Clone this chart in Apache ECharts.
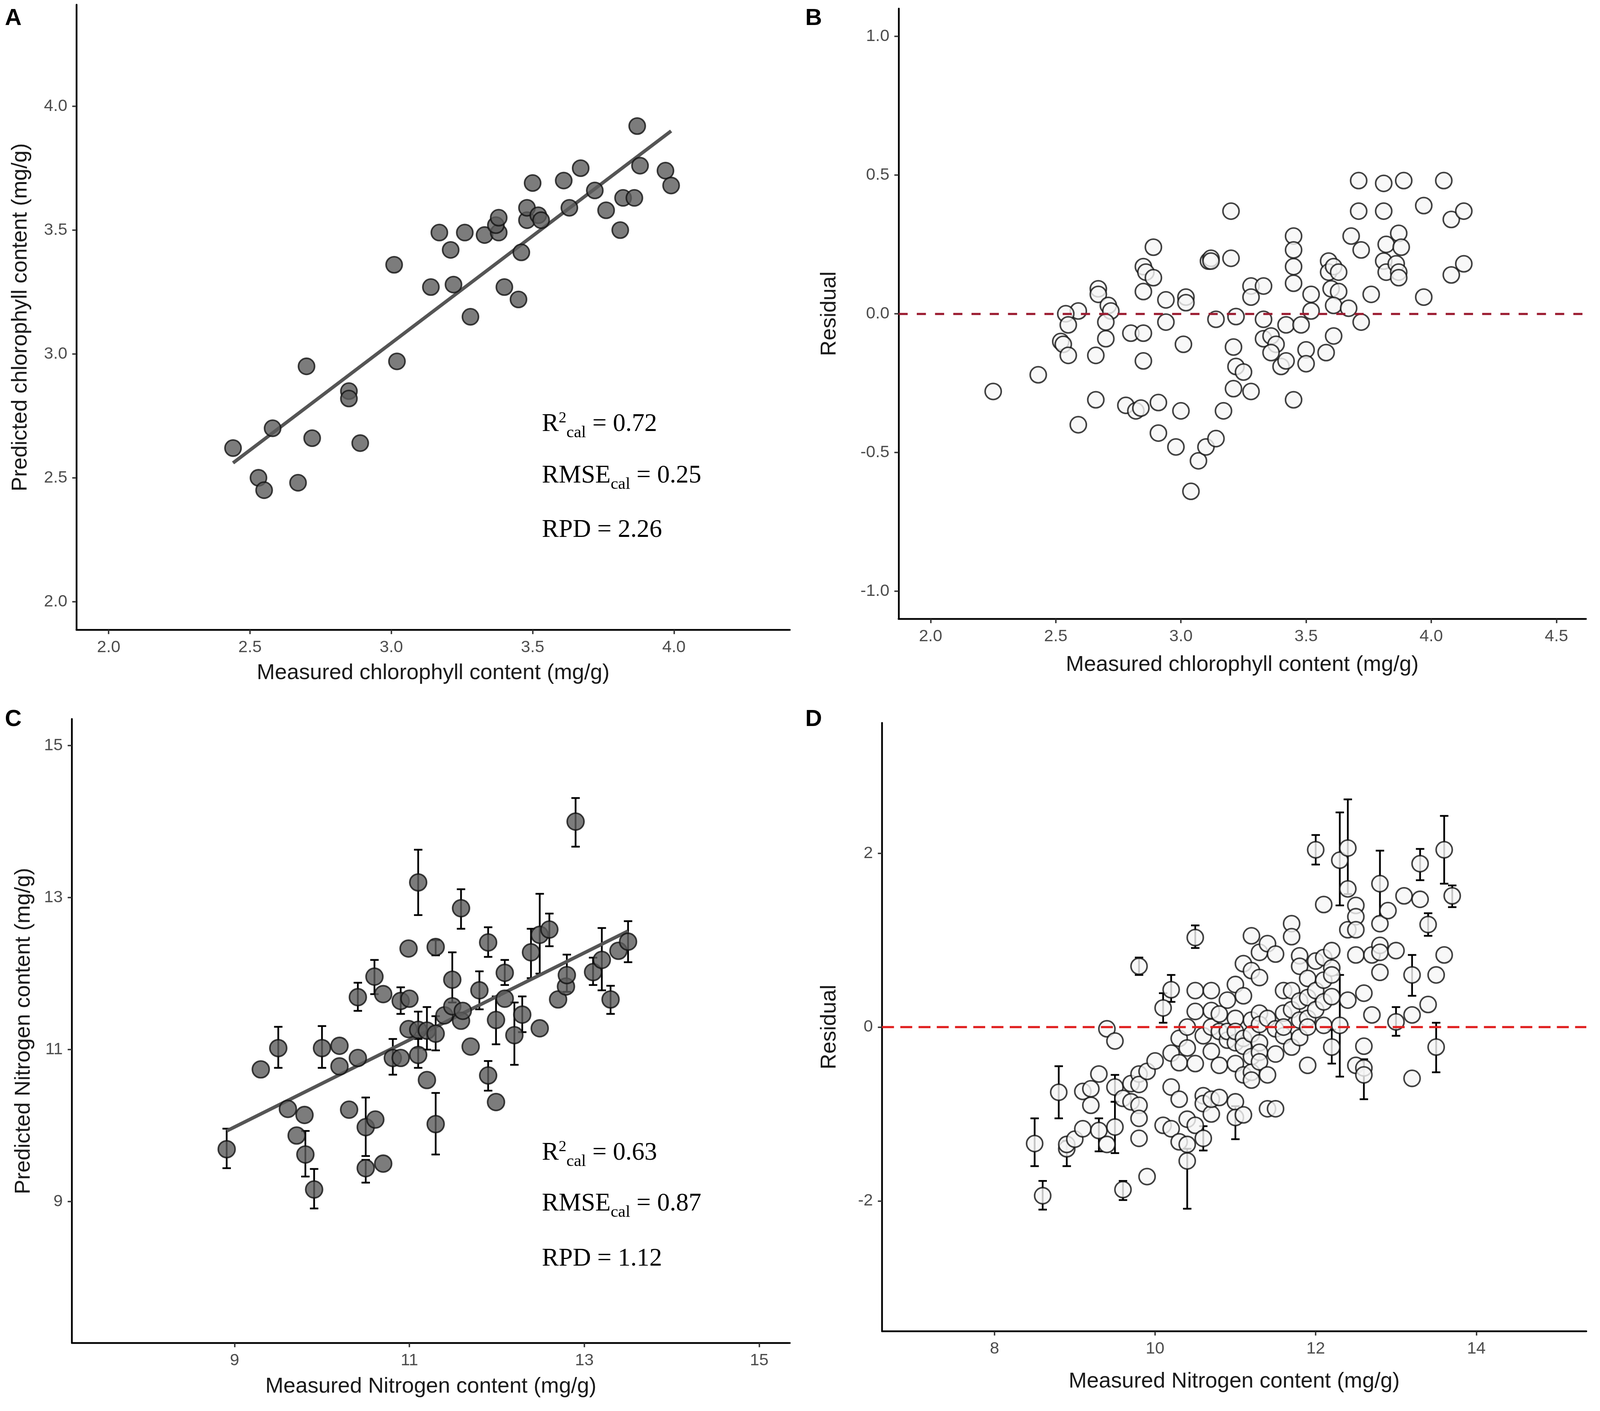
<!DOCTYPE html>
<html>
<head>
<meta charset="utf-8">
<title>Chlorophyll and nitrogen prediction</title>
<script src="https://cdn.jsdelivr.net/npm/echarts@6.0.0/dist/echarts.min.js"></script>
<style>
  html, body { margin: 0; padding: 0; background: #fff; width: 100%; height: 100%; overflow: hidden; }
  #main { width: 100vw; height: 100vh; }
</style>
</head>
<body>
<div id="main"></div>
<script>
// panel A: measured vs predicted chlorophyll
var chlMeasA = [2.44,2.53,2.55,2.58,2.67,2.70,2.72,2.85,2.85,2.89,3.01,3.02,3.14,3.17,3.21,3.22,3.26,3.28,3.33,3.38,3.37,3.38,3.40,3.45,3.46,3.48,3.48,3.50,3.52,3.53,3.61,3.63,3.67,3.72,3.76,3.81,3.82,3.86,3.87,3.88,3.97,3.99];
var chlPredA = [2.62,2.50,2.45,2.70,2.48,2.95,2.66,2.85,2.82,2.64,3.36,2.97,3.27,3.49,3.42,3.28,3.49,3.15,3.48,3.49,3.52,3.55,3.27,3.22,3.41,3.54,3.59,3.69,3.56,3.54,3.70,3.59,3.75,3.66,3.58,3.50,3.63,3.63,3.92,3.76,3.74,3.68];
var fitA_x = [2.44, 3.99];
var fitA_y = [2.56, 3.90];

// panel B: chlorophyll residuals
var chlMeasB = [2.25,2.43,2.59,2.59,2.54,2.55,2.52,2.53,2.55,2.67,
  2.67,2.66,2.66,2.71,2.72,2.70,2.70,2.80,2.85,2.86,
  2.89,2.89,2.85,2.85,2.85,2.78,2.82,2.84,2.91,2.91,
  2.94,2.94,2.98,3.00,3.01,3.02,3.02,3.07,3.10,3.04,
  3.14,3.17,3.11,3.12,3.12,3.20,3.20,3.14,3.22,3.21,
  3.22,3.21,3.25,3.28,3.28,3.28,3.33,3.33,3.33,3.36,
  3.38,3.36,3.40,3.42,3.42,3.45,3.45,3.45,3.45,3.45,
  3.48,3.50,3.50,3.52,3.52,3.58,3.59,3.59,3.60,3.61,
  3.63,3.63,3.61,3.61,3.67,3.68,3.71,3.71,3.72,3.72,
  3.76,3.81,3.81,3.81,3.82,3.82,3.86,3.87,3.87,3.87,
  3.88,3.89,3.97,3.97,4.05,4.08,4.13,4.08,4.13];
var chlResB = [-0.28,-0.22,-0.40,0.01,0.00,-0.04,-0.10,-0.11,-0.15,0.09,
  0.07,-0.15,-0.31,0.03,0.01,-0.03,-0.09,-0.07,0.17,0.15,
  0.13,0.24,0.08,-0.07,-0.17,-0.33,-0.35,-0.34,-0.32,-0.43,
  0.05,-0.03,-0.48,-0.35,-0.11,0.06,0.04,-0.53,-0.48,-0.64,
  -0.45,-0.35,0.19,0.20,0.19,0.20,0.37,-0.02,-0.01,-0.12,
  -0.19,-0.27,-0.21,-0.28,0.10,0.06,0.10,-0.02,-0.09,-0.08,
  -0.11,-0.14,-0.19,-0.17,-0.04,-0.31,0.28,0.23,0.17,0.11,
  -0.04,-0.13,-0.18,0.07,0.01,-0.14,0.19,0.15,0.09,0.17,
  0.15,0.08,0.03,-0.08,0.02,0.28,0.48,0.37,0.23,-0.03,
  0.07,0.47,0.37,0.19,0.25,0.15,0.18,0.15,0.13,0.29,
  0.24,0.48,0.39,0.06,0.48,0.34,0.37,0.14,0.18];

// panel C: measured vs predicted nitrogen
var nMeasC = [8.91,9.30,9.50,9.61,9.71,9.80,9.81,9.91,10.00,10.20,
  10.20,10.31,10.41,10.41,10.50,10.50,10.61,10.70,10.60,10.70,
  10.81,10.90,10.90,10.99,11.00,10.99,11.10,11.10,11.10,11.20,
  11.20,11.30,11.30,11.30,11.40,11.49,11.49,11.59,11.59,11.61,
  11.70,11.80,11.90,11.90,11.99,11.99,12.09,12.09,12.20,12.29,
  12.39,12.49,12.49,12.60,12.70,12.79,12.80,12.90,13.10,13.20,
  13.30,13.39,13.50];
var nPredC = [9.69,10.74,11.02,10.22,9.87,10.14,9.62,9.16,11.02,11.05,
  10.78,10.21,10.89,11.69,9.98,9.44,10.08,9.50,11.96,11.73,
  10.89,11.64,10.89,12.33,11.67,11.27,13.20,10.93,11.26,10.60,
  11.25,12.35,11.21,10.02,11.45,11.92,11.57,12.86,11.38,11.51,
  11.04,11.78,12.41,10.66,11.39,10.31,12.01,11.67,11.19,11.46,
  12.28,12.51,11.28,12.58,11.66,11.83,11.98,14.00,12.02,12.18,
  11.66,12.30,12.42];
var errC_x = [8.91,9.50,9.81,9.91,10.00,10.41,10.50,10.50,10.60,10.81,
  10.90,11.10,11.10,11.10,11.20,11.30,11.30,11.30,11.49,11.59,
  11.80,11.90,11.90,11.99,12.09,12.20,12.29,12.39,12.49,12.60,
  12.80,12.90,13.10,13.20,13.30,13.50];
var errC_hi = [9.96,11.30,9.93,9.43,11.31,11.88,10.37,9.55,12.18,11.14,
  11.82,13.63,11.14,11.50,11.56,12.44,11.44,10.43,12.28,13.11,
  12.03,12.61,10.85,11.70,12.18,11.62,11.70,12.59,13.05,12.79,
  12.25,14.31,12.21,12.60,11.84,12.69];
var errC_lo = [9.44,10.76,9.33,8.91,10.76,11.51,9.60,9.25,11.73,10.67,
  11.47,12.77,10.76,11.02,11.00,12.24,10.99,9.62,11.62,12.59,
  11.53,12.22,10.46,11.07,11.85,10.80,11.23,11.94,12.00,12.36,
  11.76,13.67,11.85,11.78,11.47,12.15];
var fitC_x = [8.91, 13.50];
var fitC_y = [9.93, 12.56];

// panel D: nitrogen residuals
var nMeasD = [8.5,8.6,8.8,8.9,8.9,9.0,9.1,9.1,9.2,9.2,
  9.3,9.3,9.4,9.4,9.5,9.5,9.5,9.6,9.6,9.7,
  9.7,9.8,9.8,9.8,9.8,9.8,9.8,9.9,9.9,10.0,
  10.1,10.1,10.2,10.2,10.2,10.2,10.3,10.3,10.3,10.3,
  10.4,10.4,10.4,10.4,10.4,10.5,10.5,10.5,10.5,10.5,
  10.6,10.6,10.6,10.6,10.7,10.7,10.7,10.7,10.7,10.7,
  10.8,10.8,10.8,10.8,10.9,10.9,10.9,11.0,11.0,11.0,
  11.0,11.0,11.0,11.0,11.1,11.1,11.1,11.1,11.1,11.1,
  11.2,11.2,11.2,11.2,11.2,11.2,11.2,11.3,11.3,11.3,
  11.3,11.3,11.3,11.3,11.4,11.4,11.4,11.4,11.5,11.5,
  11.5,11.5,11.6,11.6,11.6,11.6,11.7,11.7,11.7,11.7,
  11.7,11.8,11.8,11.8,11.8,11.8,11.9,11.9,11.9,11.9,
  11.9,12.0,12.0,12.0,12.0,12.1,12.1,12.1,12.1,12.1,
  12.2,12.2,12.2,12.2,12.2,12.3,12.3,12.4,12.4,12.4,
  12.4,12.5,12.5,12.5,12.5,12.5,12.6,12.6,12.6,12.6,
  12.7,12.7,12.8,12.8,12.8,12.8,12.8,12.9,13.0,13.0,
  13.1,13.2,13.2,13.2,13.3,13.3,13.4,13.4,13.5,13.5,
  13.6,13.6,13.7];
var nResD = [-1.34,-1.94,-0.75,-1.40,-1.35,-1.29,-1.17,-0.74,-0.71,-0.90,
  -0.54,-1.19,-1.35,-0.02,-0.16,-0.69,-1.15,-0.82,-1.87,-0.65,
  -0.86,0.70,-0.54,-0.66,-0.90,-1.05,-1.28,-0.51,-1.72,-0.39,
  0.22,-1.13,0.43,-0.30,-0.69,-1.17,-0.13,-0.41,-0.83,-1.32,
  -0.24,-1.06,-1.35,-1.54,0.00,1.03,0.42,0.18,-0.42,-1.13,
  -0.79,-0.88,-1.28,-0.10,0.42,0.19,-0.28,-1.00,-0.83,0.00,
  -0.05,-0.44,-0.81,0.15,0.31,-0.15,-0.05,0.49,0.10,-0.18,
  -0.42,-0.86,-1.04,-0.05,0.73,0.36,-0.13,-0.55,-1.01,-0.22,
  1.05,0.65,0.08,-0.34,-0.52,-0.61,-0.08,0.86,0.57,0.16,
  0.03,-0.18,-0.29,-0.40,0.96,-0.55,-0.94,0.10,0.84,-0.31,
  -0.94,-0.02,0.42,0.16,-0.10,0.00,1.19,1.04,0.42,-0.23,
  0.20,0.82,0.70,0.08,-0.12,0.30,0.56,0.34,0.10,-0.44,
  0.00,2.04,0.76,0.42,0.20,1.41,0.54,0.29,0.02,0.80,
  0.88,0.68,0.35,-0.23,0.60,1.92,0.02,2.06,1.59,1.12,
  0.31,1.40,1.27,1.12,0.83,-0.44,0.39,-0.22,-0.47,-0.55,
  0.83,0.14,1.65,1.19,0.94,0.86,0.63,1.34,0.88,0.06,
  1.51,0.60,0.14,-0.59,1.88,1.47,1.18,0.26,0.60,-0.23,
  2.04,0.83,1.51];
var errD_x = [8.5,8.6,8.8,8.9,9.3,9.5,9.5,9.6,9.8,10.1,
  10.2,10.4,10.5,10.6,11.0,12.0,12.2,12.3,12.3,12.4,
  12.6,12.8,13.0,13.2,13.3,13.4,13.5,13.6,13.7];
var errD_hi = [-1.05,-1.77,-0.45,-1.31,-1.05,-0.55,-0.86,-1.77,0.80,0.39,
  0.60,-1.40,1.17,-1.14,-0.91,2.21,-0.03,2.47,0.60,2.62,
  -0.37,2.03,0.23,0.83,2.05,1.31,0.05,2.43,1.63];
var errD_lo = [-1.60,-2.10,-1.05,-1.60,-1.43,-0.86,-1.45,-1.99,0.60,0.05,
  0.29,-2.09,0.91,-1.42,-1.29,1.87,-0.42,1.40,-0.57,1.53,
  -0.83,1.27,-0.10,0.36,1.69,1.05,-0.52,1.65,1.38];

// axis ranges and tick labels
var ticksA = [2.0, 2.5, 3.0, 3.5, 4.0];
var ticksBx = [2.0, 2.5, 3.0, 3.5, 4.0, 4.5];
var ticksBy = [-1.0, -0.5, 0.0, 0.5, 1.0];
var ticksC = [9, 11, 13, 15];
var ticksDx = [8, 10, 12, 14];
var ticksDy = [-2, 0, 2];
var refLine = 0;

// layout is designed on a 4562 x 3611 page and scaled to the real window
var el = document.getElementById('main');
var W = el.clientWidth || window.innerWidth;
var H = el.clientHeight || window.innerHeight;
var sx = W / 4562, sy = H / 3611, s = Math.min(sx, sy);
function X(v) { return v * sx; }
function Y(v) { return v * sy; }
function F(v) { return v * s; }

function zip(a, b) {
    return a.map(function (v, i) { return [v, b[i]]; });
}
function zip3(a, b, c) {
    return a.map(function (v, i) { return [v, b[i], c[i]]; });
}

function axis(name, min, max, ticks, gap, digits, grid) {
    return {
        type: 'value', gridIndex: grid, min: min, max: max,
        name: name, nameLocation: 'middle', nameGap: F(gap),
        nameTextStyle: { fontFamily: 'Liberation Sans', fontSize: F(62), color: '#1a1a1a' },
        axisLine: { show: true, onZero: false, lineStyle: { color: '#000', width: F(5) } },
        axisTick: { show: true, length: F(12), customValues: ticks, lineStyle: { color: '#333', width: F(4) } },
        axisLabel: {
            show: true, margin: F(26), fontSize: F(48), color: '#4d4d4d', fontFamily: 'Liberation Sans',
            customValues: ticks,
            formatter: function (v) { return Number(v).toFixed(digits); }
        },
        splitLine: { show: false }
    };
}

function errorBar(params, api) {
    var top = api.coord([api.value(0), api.value(1)]);
    var bot = api.coord([api.value(0), api.value(2)]);
    var w = F(12);
    var st = { stroke: '#000', lineWidth: F(5) };
    return {
        type: 'group',
        children: [
            { type: 'line', shape: { x1: top[0], y1: top[1], x2: bot[0], y2: bot[1] }, style: st },
            { type: 'line', shape: { x1: top[0] - w, y1: top[1], x2: top[0] + w, y2: top[1] }, style: st },
            { type: 'line', shape: { x1: bot[0] - w, y1: bot[1], x2: bot[0] + w, y2: bot[1] }, style: st }
        ]
    };
}

var serif = 'Liberation Serif';
var statRich = {
    m: { fontFamily: serif, fontSize: F(72), color: '#111', lineHeight: F(96), verticalAlign: 'middle' },
    sup: { fontFamily: serif, fontSize: F(44), color: '#111', lineHeight: F(44), verticalAlign: 'top', padding: [F(8), 0, 0, 0] },
    sub: { fontFamily: serif, fontSize: F(48), color: '#111', lineHeight: F(48), verticalAlign: 'bottom' }
};
function statText(left, top, txt) {
    return { type: 'text', left: X(left), top: Y(top), style: { text: txt, rich: statRich } };
}
function letter(left, top, txt) {
    return {
        type: 'text', left: X(left), top: Y(top),
        style: { text: txt, fontFamily: 'Liberation Sans', fontWeight: 'bold', fontSize: F(66), fill: '#000' }
    };
}
function grid(left, top, width, height) {
    return { left: X(left), top: Y(top), width: X(width), height: Y(height) };
}

var filled = { color: '#5b5b5b', borderColor: '#111', borderWidth: F(4.5) };
var hollow = { color: '#f6f6f6', borderColor: '#111', borderWidth: F(4.5) };

var option = {
    backgroundColor: '#fff',
    animation: false,
    grid: [
        grid(218, 12, 2034, 1600),
        grid(2562, 22, 1960, 1562),
        grid(205, 1840, 2047, 1597),
        grid(2515, 1850, 2008, 1557)
    ],
    xAxis: [
        axis('Measured chlorophyll content (mg/g)', 1.886, 4.41, ticksA, 92, 1, 0),
        axis('Measured chlorophyll content (mg/g)', 1.872, 4.618, ticksBx, 100, 1, 1),
        axis('Measured Nitrogen content (mg/g)', 7.14, 15.35, ticksC, 93, 0, 2),
        axis('Measured Nitrogen content (mg/g)', 6.6, 15.37, ticksDx, 112, 0, 3)
    ],
    yAxis: [
        axis('Predicted chlorophyll content (mg/g)', 1.886, 4.41, ticksA, 128, 1, 0),
        axis('Residual', -1.1, 1.1, ticksBy, 166, 1, 1),
        axis('Predicted Nitrogen content (mg/g)', 7.14, 15.35, ticksC, 106, 0, 2),
        axis('Residual', -3.5, 3.5, ticksDy, 118, 0, 3)
    ],
    series: [
        {
            type: 'line', xAxisIndex: 0, yAxisIndex: 0, data: zip(fitA_x, fitA_y),
            showSymbol: false, lineStyle: { color: '#555', width: F(10) }, z: 3
        },
        {
            type: 'scatter', xAxisIndex: 0, yAxisIndex: 0, data: zip(chlMeasA, chlPredA),
            symbolSize: F(46), itemStyle: filled, z: 4
        },
        {
            type: 'scatter', xAxisIndex: 1, yAxisIndex: 1, data: zip(chlMeasB, chlResB),
            symbolSize: F(46), itemStyle: hollow, z: 4,
            markLine: {
                silent: true, symbol: ['none', 'none'], label: { show: false },
                lineStyle: { color: '#9b1b30', width: F(6), type: [F(26), F(26)] },
                data: [{ yAxis: refLine }]
            }
        },
        {
            type: 'custom', xAxisIndex: 2, yAxisIndex: 2, data: zip3(errC_x, errC_hi, errC_lo),
            renderItem: errorBar, encode: { x: 0, y: [1, 2] }, z: 2
        },
        {
            type: 'line', xAxisIndex: 2, yAxisIndex: 2, data: zip(fitC_x, fitC_y),
            showSymbol: false, lineStyle: { color: '#555', width: F(10) }, z: 3
        },
        {
            type: 'scatter', xAxisIndex: 2, yAxisIndex: 2, data: zip(nMeasC, nPredC),
            symbolSize: F(48), itemStyle: filled, z: 4
        },
        {
            type: 'custom', xAxisIndex: 3, yAxisIndex: 3, data: zip3(errD_x, errD_hi, errD_lo),
            renderItem: errorBar, encode: { x: 0, y: [1, 2] }, z: 2
        },
        {
            type: 'scatter', xAxisIndex: 3, yAxisIndex: 3, data: zip(nMeasD, nResD),
            symbolSize: F(46), itemStyle: hollow, z: 4,
            markLine: {
                silent: true, symbol: ['none', 'none'], label: { show: false },
                lineStyle: { color: '#e01f1f', width: F(6), type: [F(34), F(18)] },
                data: [{ yAxis: refLine }]
            }
        }
    ],
    graphic: [
        letter(14, 18, 'A'),
        letter(2296, 18, 'B'),
        letter(14, 1812, 'C'),
        letter(2296, 1812, 'D'),
        statText(1545, 1043, '{m|R}{sup|2}{sub|cal}{m| = 0.72}'),
        statText(1545, 1186, '{m|RMSE}{sub|cal}{m| = 0.25}'),
        statText(1545, 1325, '{m|RPD = 2.26}'),
        statText(1545, 2908, '{m|R}{sup|2}{sub|cal}{m| = 0.63}'),
        statText(1545, 3049, '{m|RMSE}{sub|cal}{m| = 0.87}'),
        statText(1545, 3190, '{m|RPD = 1.12}')
    ]
};

var chart = echarts.init(el);
chart.setOption(option);
</script>
</body>
</html>
